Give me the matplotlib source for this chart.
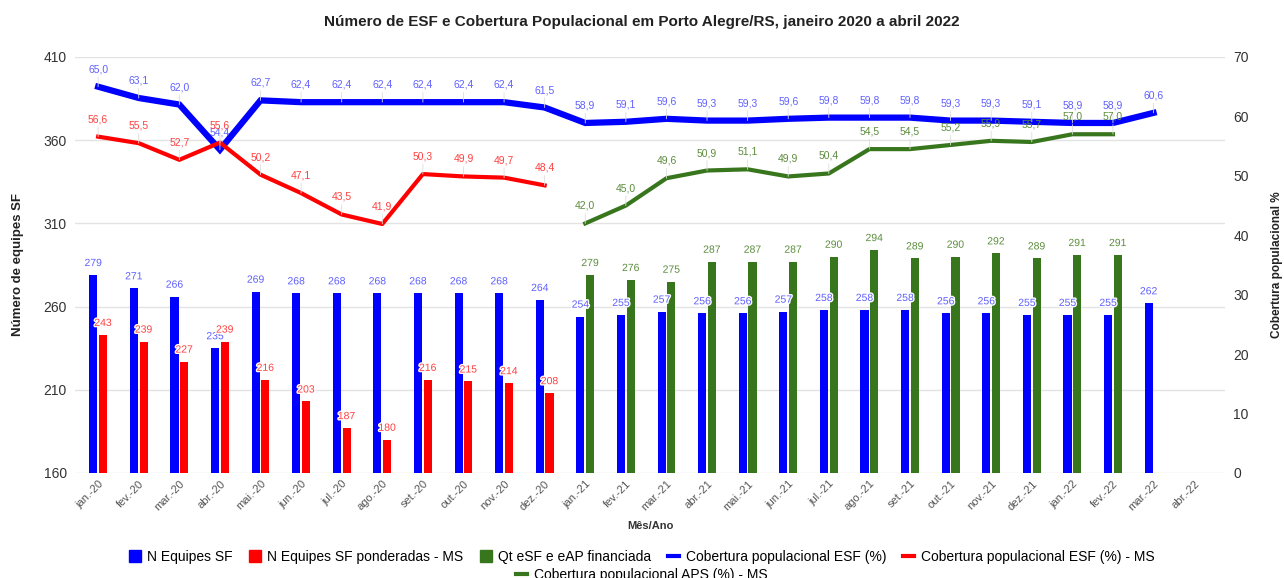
import numpy as np
import matplotlib
matplotlib.use("Agg")
import matplotlib.pyplot as plt
import matplotlib.patheffects as pe
from matplotlib.lines import Line2D

plt.rcParams['font.family'] = ['Liberation Sans', 'DejaVu Sans']

months = ['jan.-20', 'fev.-20', 'mar.-20', 'abr.-20', 'mai.-20', 'jun.-20', 'jul.-20',
          'ago.-20', 'set.-20', 'out.-20', 'nov.-20', 'dez.-20',
          'jan.-21', 'fev.-21', 'mar.-21', 'abr.-21', 'mai.-21', 'jun.-21', 'jul.-21',
          'ago.-21', 'set.-21', 'out.-21', 'nov.-21', 'dez.-21',
          'jan.-22', 'fev.-22', 'mar.-22', 'abr.-22']

# bars (left axis)
n_equipes = [279, 271, 266, 235, 269, 268, 268, 268, 268, 268, 268, 264,
             254, 255, 257, 256, 256, 257, 258, 258, 258, 256, 256, 255,
             255, 255, 262]
n_ponderadas = [243, 239, 227, 239, 216, 203, 187, 180, 216, 215, 214, 208]
qt_financiada = [279, 276, 275, 287, 287, 287, 290, 294, 289, 290, 292, 289, 291, 291]

# lines (right axis, %)
cob_esf = [65.0, 63.1, 62.0, 54.4, 62.7, 62.4, 62.4, 62.4, 62.4, 62.4, 62.4, 61.5,
           58.9, 59.1, 59.6, 59.3, 59.3, 59.6, 59.8, 59.8, 59.8, 59.3, 59.3, 59.1,
           58.9, 58.9, 60.6]
cob_esf_ms = [56.6, 55.5, 52.7, 55.6, 50.2, 47.1, 43.5, 41.9, 50.3, 49.9, 49.7, 48.4]
cob_aps_ms = [42.0, 45.0, 49.6, 50.9, 51.1, 49.9, 50.4, 54.5, 54.5, 55.2, 55.9, 55.7,
              57.0, 57.0]

BLUE = '#0000ff'
RED = '#ff0000'
GREEN = '#38761d'

x_all = np.arange(len(months))
x_blue = np.arange(len(n_equipes))
x_red = np.arange(len(n_ponderadas))
x_green = np.arange(12, 12 + len(qt_financiada))

fig = plt.figure(figsize=(12.84, 5.78), dpi=100)
ax = fig.add_axes([75 / 1284, 1 - 473 / 578, 1150 / 1284, 416 / 578])
ax2 = ax.twinx()

w = 0.2
off = 0.12
ax.bar(x_blue - off, n_equipes, w, color=BLUE, zorder=2)
ax.bar(x_red + off, n_ponderadas, w, color=RED, zorder=2)
ax.bar(x_green + off, qt_financiada, w, color=GREEN, zorder=2)

halo = [pe.withStroke(linewidth=2, foreground='white')]
for xs, vals, col, dx in [(x_blue, n_equipes, '#6060ff', -off),
                          (x_red, n_ponderadas, '#ff4040', off),
                          (x_green, qt_financiada, '#5b8c3c', off)]:
    for xi, v in zip(xs, vals):
        ax.annotate(str(v), (xi + dx, v), xytext=(0, 5), textcoords='offset points',
                    ha='center', va='bottom', fontsize=7.5, color=col,
                    path_effects=halo, zorder=3)

ax.set_ylim(160, 410)
ax.set_yticks([160, 210, 260, 310, 360, 410])
ax.set_xlim(-0.57, 27.76)
ax.set_xticks(x_all)
ax.set_xticklabels(months, rotation=45, ha='right', rotation_mode='anchor',
                   fontsize=8, color='#555555')
ax.grid(axis='y', color='#e3e3e3', lw=1, zorder=0)
ax.tick_params(axis='both', length=0)
ax.tick_params(axis='y', labelsize=10, labelcolor='#333333', pad=6)
ax.tick_params(axis='x', pad=4)

ax2.plot(x_blue, cob_esf, color=BLUE, lw=4.5, solid_joinstyle='miter', zorder=3)
ax2.plot(x_red, cob_esf_ms, color=RED, lw=3, zorder=3)
ax2.plot(x_green, cob_aps_ms, color=GREEN, lw=3, zorder=3)

for xs, vals, col in [(x_blue, cob_esf, '#6060ff'),
                      (x_red, cob_esf_ms, '#ff4040'),
                      (x_green, cob_aps_ms, '#5b8c3c')]:
    for xi, v in zip(xs, vals):
        ax2.annotate(f'{v:.1f}'.replace('.', ','), (xi, v), xytext=(0, 9),
                     textcoords='offset points', ha='center', va='bottom',
                     fontsize=7.5, color=col,
                     arrowprops=dict(arrowstyle='-', color='#dddddd', lw=0.6,
                                     shrinkA=0, shrinkB=0))

ax2.set_ylim(0, 70)
ax2.set_yticks(range(0, 80, 10))
ax2.tick_params(axis='y', length=0, labelsize=10, labelcolor='#333333', pad=6)

for a in (ax, ax2):
    for s in a.spines.values():
        s.set_visible(False)

fig.text(0.5, 1 - 22 / 578, 'Número de ESF e Cobertura Populacional em Porto Alegre/RS, janeiro 2020 a abril 2022',
         ha='center', va='center', fontsize=11, fontweight='bold', color='#222222')
fig.text(18 / 1284, 1 - 265 / 578, 'Número de equipes SF', rotation=90,
         ha='center', va='center', fontsize=9.5, fontweight='bold', color='#222222')
fig.text(1277 / 1284, 1 - 265 / 578, 'Cobertura populacional %', rotation=90,
         ha='center', va='center', fontsize=8.5, fontweight='bold', color='#222222')
fig.text(650 / 1284, 1 - 526 / 578, 'Mês/Ano', ha='center', va='center',
         fontsize=8, fontweight='bold', color='#333333')

def sq(c):
    return Line2D([], [], marker='s', ls='none', color=c, markersize=8)

def ln(c):
    return Line2D([], [], color=c, lw=3)

row1 = [sq(BLUE), sq(RED), sq(GREEN), ln(BLUE), ln(RED)]
lab1 = ['N Equipes SF', 'N Equipes SF ponderadas - MS', 'Qt eSF e eAP financiada',
        'Cobertura populacional ESF (%)', 'Cobertura populacional ESF (%) - MS']
leg1 = fig.legend(row1, lab1, loc='center', bbox_to_anchor=(0.5, 1 - 557 / 578),
                  ncol=5, frameon=False, fontsize=10, handlelength=0.8,
                  handletextpad=0.5, columnspacing=1.2)
fig.legend([ln(GREEN)], ['Cobertura populacional APS (%) - MS'], loc='center',
           bbox_to_anchor=(0.5, 1 - 575 / 578), frameon=False, fontsize=10,
           handlelength=0.8, handletextpad=0.5)

fig.savefig('out.png', dpi=100, facecolor='white')
